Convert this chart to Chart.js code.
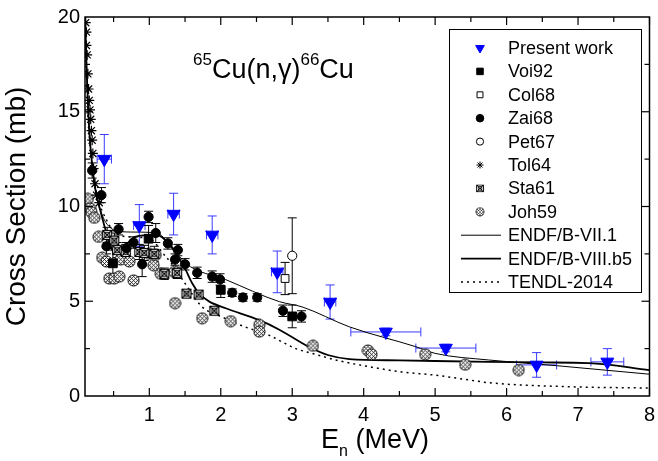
<!DOCTYPE html>
<html>
<head>
<meta charset="utf-8">
<script src="https://cdn.jsdelivr.net/npm/chart.js@4.4.1/dist/chart.umd.min.js"></script>
<style>
  html, body { margin: 0; padding: 0; background: #fff; }
  #wrap { width: 658px; height: 461px; position: relative; }
</style>
</head>
<body>
<div id="wrap"><canvas id="xs"></canvas></div>
<script>
// ---- data ----
const pwX  = [0.37, 0.86, 1.34, 1.88, 2.79, 3.53, 4.31, 5.15, 6.42, 7.41];
const pwY  = [12.5, 9.0, 9.6, 8.5, 6.55, 4.96, 3.38, 2.53, 1.64, 1.8];
const pwDY = [1.3, 1.1, 1.1, 1.0, 1.1, 0.9, 0.2, 0.2, 0.65, 0.7];
const pwDX = [0.1, 0.08, 0.08, 0.08, 0.08, 0.08, 0.49, 0.42, 0.28, 0.23];

const voiX  = [0.49, 0.99, 2.0, 3.0];
const voiY  = [7.0, 8.3, 5.6, 4.2];
const voiDY = [0.7, 0.7, 0.4, 0.6];

const colX  = [2.9];
const colY  = [6.2];
const colDY = [0.85];

const petX  = [3.0];
const petY  = [7.4];
const petDY = [2.0];

const zaiX  = [0.2, 0.33, 0.40, 0.57, 0.68, 0.78, 0.90, 0.99, 1.09, 1.26, 1.36, 1.40, 1.50, 1.67, 1.88, 1.99, 2.16, 2.31, 2.51, 2.87, 3.13];
const zaiY  = [11.9, 10.6, 7.9, 8.8, 7.8, 8.1, 6.95, 9.45, 8.6, 8.05, 7.2, 7.7, 6.95, 6.5, 6.3, 6.15, 5.45, 5.2, 5.2, 4.5, 4.2];
const zaiDY = [0.4, 0.4, 0.4, 0.3, 0.3, 0.3, 0.65, 0.3, 0.5, 0.3, 0.3, 0.3, 0.3, 0.3, 0.3, 0.3, 0.2, 0.2, 0.2, 0.3, 0.3];

const tolX = [0.11, 0.12, 0.12, 0.13, 0.14, 0.15, 0.16, 0.17, 0.18, 0.19, 0.2, 0.21, 0.22, 0.24, 0.26, 0.3];
const tolY = [19.7, 19.2, 18.5, 18.0, 17.0, 16.2, 15.6, 15.1, 14.6, 14.0, 13.5, 12.8, 12.0, 11.2, 10.6, 10.2];

const staX  = [0.41, 0.51, 0.55, 0.67, 0.86, 0.93, 1.07, 1.21, 1.39, 1.52, 1.69, 1.91];
const staY  = [8.5, 8.2, 7.7, 7.6, 7.6, 7.55, 7.5, 6.45, 6.5, 5.4, 5.35, 4.5];
const staDY = [0.4, 0.4, 0.4, 0.4, 0.4, 0.4, 0.4, 0.3, 0.3, 0.2, 0.2, 0.2];

const johX = [0.14, 0.17, 0.19, 0.23, 0.29, 0.34, 0.40, 0.44, 0.51, 0.58, 0.60, 0.72, 0.78, 1.00, 1.06, 1.09, 1.16, 1.35, 1.36, 1.74, 2.14, 2.54, 2.54, 3.29, 4.06, 4.11, 4.86, 5.42, 6.17];
const johY = [10.4, 9.9, 9.7, 9.4, 8.4, 7.3, 7.1, 6.2, 6.2, 6.3, 7.2, 7.1, 6.1, 7.5, 6.9, 7.45, 6.45, 6.55, 4.9, 4.1, 3.95, 3.75, 3.4, 2.65, 2.4, 2.2, 2.2, 1.65, 1.37];

const endf7X = [0.1, 0.13, 0.16, 0.2, 0.25, 0.3, 0.37, 0.45, 0.55, 0.8, 1.1, 1.28, 1.51, 2.07, 2.82, 3.14, 3.8, 4.73, 5.0, 5.75, 6.7, 8.0];
const endf7Y = [20, 16.5, 14.0, 12.2, 10.8, 10.0, 9.3, 8.9, 8.7, 8.65, 8.6, 8.05, 7.0, 6.14, 4.98, 4.7, 3.65, 2.6, 2.25, 1.9, 1.6, 1.15];

const endf8X = [0.1, 0.13, 0.16, 0.2, 0.25, 0.3, 0.37, 0.45, 0.5, 0.65, 0.8, 1.1, 1.28, 1.49, 1.6, 1.7, 1.84, 2.07, 2.54, 2.82, 3.23, 3.51, 3.8, 4.5, 5.75, 6.5, 7.15, 8.0];
const endf8Y = [20, 16.5, 14.0, 12.2, 10.8, 10.0, 9.0, 8.0, 7.6, 7.9, 8.4, 8.5, 8.0, 6.8, 5.95, 5.4, 4.98, 4.63, 4.0, 3.5, 2.6, 2.15, 1.95, 1.88, 1.8, 1.77, 1.74, 1.37];

const tendlX = [0.1, 0.15, 0.2, 0.3, 0.4, 0.5, 0.7, 1.0, 1.22, 1.35, 1.49, 1.74, 2.0, 2.3, 2.68, 2.86, 3.05, 3.28, 3.61, 4.07, 4.53, 5.0, 5.47, 5.75, 6.87, 8.0];
const tendlY = [19.0, 14.5, 12.0, 10.2, 9.3, 8.7, 8.4, 8.3, 7.4, 6.8, 6.0, 4.7, 4.2, 3.7, 3.2, 2.85, 2.5, 2.25, 1.9, 1.55, 1.27, 1.1, 0.85, 0.7, 0.49, 0.42];

const xMajor = [1, 2, 3, 4, 5, 6, 7, 8];
const xMinor = [0.5, 1.5, 2.5, 3.5, 4.5, 5.5, 6.5, 7.5];
const yMajor = [5, 10, 15];
const yMinor = [2.5, 7.5, 12.5, 17.5];

const FONT = '"Liberation Sans", Arial, Helvetica, sans-serif';
const BLUE = '#0000ff';

const pts = (xs, ys) => xs.map((x, i) => ({ x: x, y: ys[i] }));

// custom marker images for the two hatched symbols
function hatchCircle() {
  const c = document.createElement('canvas');
  c.width = 13; c.height = 13;
  const g = c.getContext('2d');
  g.fillStyle = '#fff';
  g.beginPath(); g.arc(6.5, 6.5, 5.8, 0, Math.PI * 2); g.fill();
  g.strokeStyle = '#000'; g.lineWidth = 0.8;
  g.save();
  g.beginPath(); g.arc(6.5, 6.5, 5.8, 0, Math.PI * 2); g.clip();
  for (let k = -12; k <= 12; k += 4) {
    g.beginPath(); g.moveTo(k + 0.5, 0.5); g.lineTo(k + 12.5, 12.5); g.stroke();
    g.beginPath(); g.moveTo(k + 0.5, 12.5); g.lineTo(k + 12.5, 0.5); g.stroke();
  }
  g.restore();
  g.lineWidth = 1;
  g.beginPath(); g.arc(6.5, 6.5, 5.5, 0, Math.PI * 2); g.stroke();
  return c;
}
function boxCross() {
  const c = document.createElement('canvas');
  c.width = 12; c.height = 12;
  const g = c.getContext('2d');
  g.fillStyle = '#fff'; g.fillRect(1, 1, 10, 10);
  g.strokeStyle = '#000'; g.lineWidth = 1.1;
  g.strokeRect(1.5, 1.5, 9, 9);
  g.beginPath(); g.moveTo(1.5, 1.5); g.lineTo(10.5, 10.5); g.moveTo(10.5, 1.5); g.lineTo(1.5, 10.5); g.stroke();
  g.lineWidth = 0.9;
  g.beginPath(); g.arc(6, 6, 2.8, 0, Math.PI * 2); g.stroke();
  return c;
}
const johImg = hatchCircle();
const staImg = boxCross();

const datasets = [
  { label: 'Present work', data: pts(pwX, pwY), errY: pwDY, errX: pwDX, errColor: '#3a3aff',
    pointStyle: 'triangle', rotation: 180, pointRadius: 7.5, backgroundColor: BLUE, borderColor: BLUE, borderWidth: 1 },
  { label: 'Voi92', data: pts(voiX, voiY), errY: voiDY,
    pointStyle: 'rect', pointRadius: 6.2, backgroundColor: '#000', borderColor: '#000', borderWidth: 1 },
  { label: 'Col68', data: pts(colX, colY), errY: colDY,
    pointStyle: 'rect', pointRadius: 5.5, backgroundColor: '#fff', borderColor: '#000', borderWidth: 1 },
  { label: 'Zai68', data: pts(zaiX, zaiY), errY: zaiDY,
    pointStyle: 'circle', pointRadius: 4.6, backgroundColor: '#000', borderColor: '#000', borderWidth: 1 },
  { label: 'Pet67', data: pts(petX, petY), errY: petDY,
    pointStyle: 'circle', pointRadius: 4.6, backgroundColor: '#fff', borderColor: '#000', borderWidth: 1 },
  { label: 'Tol64', data: pts(tolX, tolY),
    pointStyle: 'star', pointRadius: 5, backgroundColor: '#000', borderColor: '#000', borderWidth: 1.2 },
  { label: 'Sta61', data: pts(staX, staY), errY: staDY,
    pointStyle: staImg, pointRadius: 5, borderColor: '#000' },
  { label: 'Joh59', data: pts(johX, johY),
    pointStyle: johImg, pointRadius: 5, borderColor: '#000' },
  { label: 'ENDF/B-VII.1', data: pts(endf7X, endf7Y), showLine: true, pointRadius: 0,
    borderColor: '#000', borderWidth: 1, cubicInterpolationMode: 'monotone' },
  { label: 'ENDF/B-VIII.b5', data: pts(endf8X, endf8Y), showLine: true, pointRadius: 0,
    borderColor: '#000', borderWidth: 1.8, cubicInterpolationMode: 'monotone' },
  { label: 'TENDL-2014', data: pts(tendlX, tendlY), showLine: true, pointRadius: 0,
    borderColor: '#000', borderWidth: 1.5, borderDash: [2, 4], cubicInterpolationMode: 'monotone' }
];

// error bars, drawn under the markers
const errorBars = {
  id: 'errorBars',
  beforeDatasetsDraw(chart) {
    const { ctx, scales: { x, y } } = chart;
    ctx.save();
    chart.data.datasets.forEach(ds => {
      if (!ds.errY && !ds.errX) return;
      ctx.strokeStyle = ds.errColor || '#000';
      ctx.lineWidth = 1;
      ds.data.forEach((p, i) => {
        const px = x.getPixelForValue(p.x), py = y.getPixelForValue(p.y);
        if (ds.errY && ds.errY[i]) {
          const t = y.getPixelForValue(p.y + ds.errY[i]), b = y.getPixelForValue(p.y - ds.errY[i]);
          ctx.beginPath();
          ctx.moveTo(px, t); ctx.lineTo(px, b);
          ctx.moveTo(px - 4.5, t); ctx.lineTo(px + 4.5, t);
          ctx.moveTo(px - 4.5, b); ctx.lineTo(px + 4.5, b);
          ctx.stroke();
        }
        if (ds.errX && ds.errX[i]) {
          const l = x.getPixelForValue(p.x - ds.errX[i]), r = x.getPixelForValue(p.x + ds.errX[i]);
          ctx.beginPath();
          ctx.moveTo(l, py); ctx.lineTo(r, py);
          ctx.moveTo(l, py - 4.5); ctx.lineTo(l, py + 4.5);
          ctx.moveTo(r, py - 4.5); ctx.lineTo(r, py + 4.5);
          ctx.stroke();
        }
      });
    });
    ctx.restore();
  }
};

// frame, inward ticks, legend box, reaction label, x title
const decorations = {
  id: 'decorations',
  afterDraw(chart) {
    const { ctx, chartArea: a, scales: { x, y } } = chart;
    const seg = (x1, y1, x2, y2) => { ctx.beginPath(); ctx.moveTo(x1, y1); ctx.lineTo(x2, y2); ctx.stroke(); };
    ctx.save();
    ctx.strokeStyle = '#000';
    ctx.lineWidth = 1.5;
    ctx.strokeRect(a.left, a.top, a.right - a.left, a.bottom - a.top);
    ctx.lineWidth = 1.2;
    xMajor.concat(xMinor).forEach(v => {
      const p = x.getPixelForValue(v), len = xMajor.includes(v) ? 8 : 5;
      seg(p, a.bottom, p, a.bottom - len);
      seg(p, a.top, p, a.top + len);
    });
    yMajor.concat(yMinor).forEach(v => {
      const p = y.getPixelForValue(v), len = yMajor.includes(v) ? 8 : 5;
      seg(a.left, p, a.left + len, p);
      seg(a.right, p, a.right - len, p);
    });

    // legend
    const bx = 449, by = 29, bw = 192, bh = 263;
    ctx.fillStyle = '#fff';
    ctx.fillRect(bx, by, bw, bh);
    ctx.lineWidth = 1;
    ctx.strokeRect(bx + 0.5, by + 0.5, bw, bh);
    ctx.font = '18px ' + FONT;
    ctx.textBaseline = 'middle';
    ctx.textAlign = 'left';
    const legendSize = [5, 4.6, 4.2, 3.8, 3.6, 3.5, 4, 4, 0, 0, 0];
    chart.data.datasets.forEach((ds, i) => {
      const ry = by + 19 + i * 23.4, mx = bx + 31;
      if (ds.showLine) {
        ctx.save();
        ctx.strokeStyle = '#000';
        ctx.lineWidth = ds.borderWidth;
        ctx.setLineDash(ds.borderDash || []);
        seg(bx + 12, ry, bx + 52, ry);
        ctx.restore();
      } else if (ds.pointStyle instanceof HTMLCanvasElement) {
        const s = ds.pointStyle.width * 0.75;
        ctx.drawImage(ds.pointStyle, mx - s / 2, ry - s / 2, s, s);
      } else {
        ctx.save();
        ctx.fillStyle = ds.backgroundColor;
        ctx.strokeStyle = ds.borderColor;
        Chart.helpers.drawPoint(ctx, { pointStyle: ds.pointStyle, radius: legendSize[i],
          rotation: ds.rotation || 0, borderWidth: 1 }, mx, ry);
        ctx.restore();
      }
      ctx.fillStyle = '#000';
      ctx.fillText(ds.label, bx + 59, ry + 1);
    });

    // reaction label 65Cu(n,γ)66Cu
    ctx.textBaseline = 'alphabetic';
    let tx = 193;
    const big = '27px ' + FONT, small = '17px ' + FONT, base = 78;
    const part = (t, f, dy) => { ctx.font = f; ctx.fillText(t, tx, base + dy); tx += ctx.measureText(t).width; };
    part('65', small, -13);
    part('Cu(n,γ)', big, 0);
    part('66', small, -13);
    part('Cu', big, 0);

    // x title E_n (MeV)
    const xt = 'E', xs = 'n', xr = ' (MeV)';
    ctx.font = '27px ' + FONT;
    const w1 = ctx.measureText(xt).width;
    ctx.font = '16px ' + FONT;
    const w2 = ctx.measureText(xs).width;
    let sx = 321;
    ctx.font = '27px ' + FONT; ctx.fillText(xt, sx, 448); sx += w1;
    ctx.font = '16px ' + FONT; ctx.fillText(xs, sx, 456); sx += w2;
    ctx.font = '27px ' + FONT; ctx.fillText(xr, sx, 448);
    ctx.restore();
  }
};

new Chart(document.getElementById('xs'), {
  type: 'scatter',
  data: { datasets: datasets },
  options: {
    responsive: true,
    maintainAspectRatio: false,
    animation: false,
    layout: { padding: { top: 17, right: 6, left: 0, bottom: 0 } },
    plugins: { legend: { display: false }, tooltip: { enabled: false } },
    scales: {
      x: {
        type: 'linear', min: 0.1, max: 8,
        afterBuildTicks: s => { s.ticks = xMajor.map(v => ({ value: v })); },
        afterFit: s => { s.height = 65; s.paddingLeft = 0; s.paddingRight = 0; },
        grid: { display: false, drawTicks: false },
        border: { display: false },
        ticks: { padding: 7, color: '#000', font: { family: FONT, size: 20 }, maxRotation: 0,
          callback: v => String(v) }
      },
      y: {
        min: 0, max: 20,
        afterFit: s => { s.width = 85; s.paddingTop = 0; s.paddingBottom = 0; },
        grid: { display: false, drawTicks: false },
        border: { display: false },
        ticks: { stepSize: 5, padding: 5, color: '#000', font: { family: FONT, size: 20 } },
        title: { display: true, text: 'Cross Section (mb)', color: '#000',
          font: { family: FONT, size: 28 }, padding: { top: 0, bottom: 0 } }
      }
    }
  },
  plugins: [errorBars, decorations]
});
</script>
</body>
</html>
